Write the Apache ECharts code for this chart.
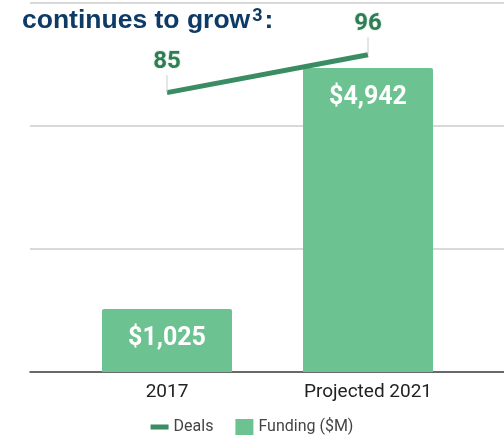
<!DOCTYPE html>
<html>
<head>
<meta charset="utf-8">
<script src="https://cdn.jsdelivr.net/npm/echarts@6/dist/echarts.min.js"></script>
<style>html,body{margin:0;padding:0;background:#fff}#c{width:504px;height:441px}</style>
</head>
<body>
<div id="c"></div>
<script>
const categories = ['2017', 'Projected 2021'];
const funding = [1025, 4942];
const deals = [85, 96];
const fundingTicks = [0, 2000, 4000, 6000];

const chart = echarts.init(document.getElementById('c'));
const font = 'Roboto, "Liberation Sans", sans-serif';
const lineGreen = '#3a8c63';
chart.setOption({
  animation: false,
  title: {
    text: '{a|continues to grow}{s|3}{a|:}',
    left: 22, top: 7, padding: 0,
    textStyle: {
      rich: {
        a: { fontFamily: '"Liberation Sans", Arial, sans-serif', fontWeight: 'bold', fontSize: 26.5, color: '#0d3a66' },
        s: { fontFamily: 'Roboto, "Liberation Sans", sans-serif', fontSize: 18, color: '#0d3a66', verticalAlign: 'top', padding: [0, 2, 8, 2] }
      }
    }
  },
  legend: {
    bottom: 1, left: 'center',
    itemWidth: 18, itemHeight: 16, itemGap: 22, symbolKeepAspect: false,
    textStyle: { fontFamily: font, fontSize: 16, color: '#444' },
    data: [
      { name: 'Deals', icon: 'path://M0,5.5H18V10.5H0ZM0,0H0.05V0.05H0ZM0,15.95H0.05V16H0Z', itemStyle: { color: lineGreen } },
      { name: 'Funding ($M)', icon: 'rect' }
    ]
  },
  grid: [
    { left: 30, right: 0, top: 3, bottom: 69 },
    { left: 66.5, right: 35.5, top: 3, bottom: 69 }
  ],
  xAxis: [
    { gridIndex: 0, type: 'value', min: 0, max: 1, axisLabel: { show: false }, axisTick: { show: false }, splitLine: { show: false },
      axisLine: { show: true, lineStyle: { color: '#444', width: 1.5 } } },
    { gridIndex: 1, type: 'category', data: categories, axisLine: { show: false }, axisTick: { show: false },
      axisLabel: { fontFamily: font, fontSize: 19, color: '#222', margin: 11 } }
  ],
  yAxis: [
    { gridIndex: 0, type: 'value', min: fundingTicks[0], max: fundingTicks[fundingTicks.length - 1], interval: 2000,
      axisLine: { show: false }, axisTick: { show: false },
      axisLabel: { show: false },
      splitLine: { lineStyle: { color: '#ccc', width: 1.5 } } },
    { gridIndex: 1, type: 'value', min: 0, max: 6000, show: false },
    { gridIndex: 1, type: 'value', min: 4, max: 111, show: false }
  ],
  series: [
    { name: 'Funding ($M)', type: 'bar', xAxisIndex: 1, yAxisIndex: 1, data: funding, barWidth: 130,
      itemStyle: { color: '#6cc290', borderRadius: [2, 2, 0, 0] },
      label: { show: true, position: 'insideTop', distance: 17, fontFamily: font, fontWeight: 'bold', fontSize: 25, color: '#fff',
        formatter: p => '$' + p.value.toLocaleString('en-US') } },
    { name: 'Deals', type: 'line', xAxisIndex: 1, yAxisIndex: 2, data: deals, symbol: 'none', z: 5,
      lineStyle: { color: lineGreen, width: 5 }, itemStyle: { color: lineGreen } },
    { name: 'DealsLabels', type: 'scatter', xAxisIndex: 1, yAxisIndex: 2, data: deals, symbolSize: 1, z: 6,
      itemStyle: { color: 'rgba(0,0,0,0)' }, silent: true,
      label: { show: true, position: 'top', distance: 0, fontFamily: font, fontWeight: 'bold', fontSize: 24, color: '#2f7d55',
        textBorderColor: '#e8f2ec', textBorderWidth: 2, opacity: 1 },
      labelLayout: { dy: -18 },
      labelLine: { show: true, lineStyle: { color: '#ccc', width: 1 } } }
  ]
});
</script>
</body>
</html>
